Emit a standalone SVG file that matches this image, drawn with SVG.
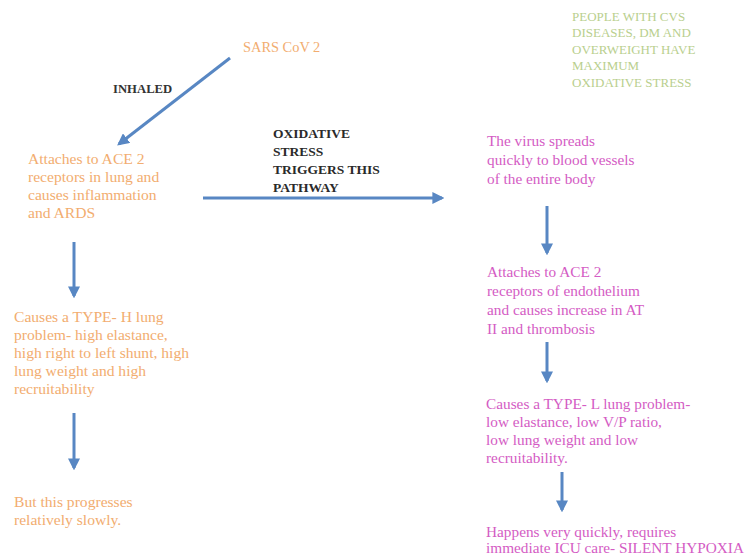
<svg xmlns="http://www.w3.org/2000/svg" width="749" height="557" viewBox="0 0 749 557">
<style>
text{font-family:"Liberation Serif","DejaVu Serif",serif}
.or{fill:#f2ad70;font-size:15.6px}
.mg{fill:#d45cc4;font-size:15.3px}
.gr{fill:#b9cf8e;font-size:13px}
.dk{fill:#2a2a2a;font-size:13.5px;font-weight:bold}
.lb{fill:#333;font-size:12.7px;font-weight:bold}
.sa{fill:#f2ad70;font-size:14.4px}
.ar{stroke:#5887c3;stroke-width:3;fill:none;marker-end:url(#ah)}
</style>
<defs>
<marker id="ah" viewBox="0 0 10 10" refX="8" refY="5" markerWidth="4" markerHeight="4" orient="auto" markerUnits="strokeWidth">
<path d="M0,0 L10,5 L0,10 z" fill="#5887c3"/>
</marker>
</defs>
<g id="connectors">
<line class="ar" x1="230" y1="58" x2="119" y2="144"/>
<line class="ar" x1="203" y1="198" x2="442" y2="198"/>
<line class="ar" x1="74" y1="242" x2="74" y2="296"/>
<line class="ar" x1="74" y1="413" x2="74" y2="468"/>
<line class="ar" x1="547" y1="206" x2="547" y2="253"/>
<line class="ar" x1="547" y1="342" x2="547" y2="381"/>
<line class="ar" x1="562" y1="472" x2="562" y2="510"/>
<text class="lb" x="113" y="93">INHALED</text>
<text class="dk" x="273" y="138">OXIDATIVE</text>
<text class="dk" x="273" y="156">STRESS</text>
<text class="dk" x="273" y="174">TRIGGERS THIS</text>
<text class="dk" x="273" y="192">PATHWAY</text>
</g>
<g id="sars"><text class="sa" x="243" y="52">SARS CoV 2</text></g>
<g id="note">
<text class="gr" x="572" y="21">PEOPLE WITH CVS</text>
<text class="gr" x="572" y="37">DISEASES, DM AND</text>
<text class="gr" x="572" y="54">OVERWEIGHT HAVE</text>
<text class="gr" x="572" y="70">MAXIMUM</text>
<text class="gr" x="572" y="87">OXIDATIVE STRESS</text>
</g>
<g id="left1">
<text class="or" x="28" y="164">Attaches to ACE 2</text>
<text class="or" x="28" y="182">receptors in lung and</text>
<text class="or" x="28" y="200">causes inflammation</text>
<text class="or" x="28" y="218">and ARDS</text>
</g>
<g id="left2">
<text class="or" x="14" y="322">Causes a TYPE- H lung</text>
<text class="or" x="14" y="340">problem- high elastance,</text>
<text class="or" x="14" y="358">high right to left shunt, high</text>
<text class="or" x="14" y="376">lung weight and high</text>
<text class="or" x="14" y="394">recruitability</text>
</g>
<g id="left3">
<text class="or" x="14" y="507">But this progresses</text>
<text class="or" x="14" y="525">relatively slowly.</text>
</g>
<g id="right1">
<text class="mg" x="487" y="146">The virus spreads</text>
<text class="mg" x="487" y="165">quickly to blood vessels</text>
<text class="mg" x="487" y="184">of the entire body</text>
</g>
<g id="right2">
<text class="mg" x="487" y="277">Attaches to ACE 2</text>
<text class="mg" x="487" y="296">receptors of endothelium</text>
<text class="mg" x="487" y="315">and causes increase in AT</text>
<text class="mg" x="487" y="334">II and thrombosis</text>
</g>
<g id="right3">
<text class="mg" x="486" y="409">Causes a TYPE- L lung problem-</text>
<text class="mg" x="486" y="427">low elastance, low V/P ratio,</text>
<text class="mg" x="486" y="445">low lung weight and low</text>
<text class="mg" x="486" y="463">recruitability.</text>
</g>
<g id="right4">
<text class="mg" x="486" y="537">Happens very quickly, requires</text>
<text class="mg" x="486" y="553">immediate ICU care- SILENT HYPOXIA</text>
</g>
</svg>
